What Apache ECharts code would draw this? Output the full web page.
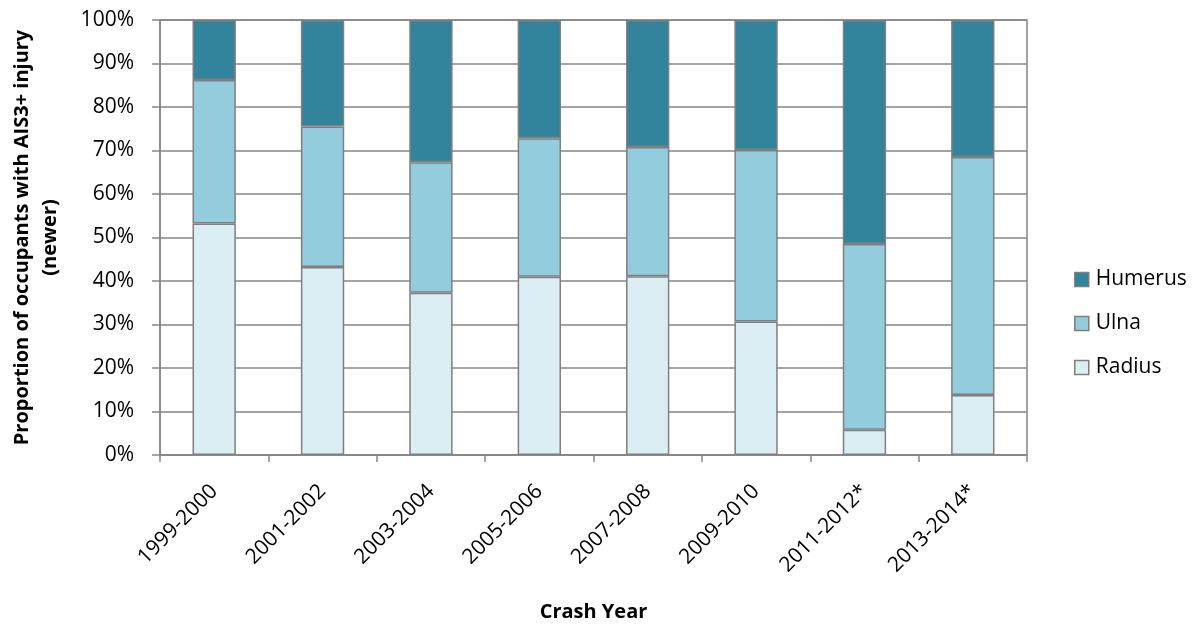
<!DOCTYPE html>
<html><head><meta charset="utf-8">
<script src="https://cdn.jsdelivr.net/npm/echarts@6/dist/echarts.min.js"></script>
<style>html,body{margin:0;padding:0;background:#fff}#c{width:1196px;height:627px}</style>
</head><body><div id="c"></div>
<script>
const categories = ['1999-2000','2001-2002','2003-2004','2005-2006','2007-2008','2009-2010','2011-2012*','2013-2014*'];
const radius = [53.2, 43.2, 37.3, 41.0, 41.1, 30.7, 5.8, 13.8];
const ulna = [33.0, 32.3, 30.0, 31.8, 29.7, 39.4, 42.7, 54.7];
const humerus = [13.8, 24.5, 32.7, 27.2, 29.2, 29.9, 51.5, 31.5];
const yTicks = [0,10,20,30,40,50,60,70,80,90,100];

const font = 'Open Sans';
const chart = echarts.init(document.getElementById('c'));
const mk = (name, data, color) => ({
  name, type:'bar', stack:'s', data, barWidth:'40%',
  itemStyle:{color, borderColor:'#7f7f7f', borderWidth:1.5},
  animation:false
});
chart.setOption({
  animation:false,
  textStyle:{fontFamily:font},
  grid:{left:160, right:169, top:20, bottom:171, show:true, borderColor:'#868686', borderWidth:1.5, containLabel:false},
  legend:{
    orient:'vertical', left:1069, top:264, itemGap:23, itemWidth:14, itemHeight:14,
    data:['Humerus','Ulna','Radius'],
    textStyle:{fontFamily:font, fontSize:21, color:'#000', padding:[0,0,0,2]},
    icon:'rect', itemStyle:{borderColor:'#7f7f7f', borderWidth:1.5}
  },
  xAxis:{
    type:'category', data:categories,
    name:'Crash Year', nameLocation:'middle', nameGap:147,
    nameTextStyle:{fontFamily:font, fontSize:20, fontWeight:'bold', color:'#000'},
    axisLine:{lineStyle:{color:'#868686', width:1.5}},
    axisTick:{show:true, length:7, lineStyle:{color:'#868686', width:1.5}},
    axisLabel:{rotate:45, fontFamily:font, fontSize:21, color:'#000', margin:33}
  },
  yAxis:{
    type:'value', min:0, max:100, interval:10,
    name:'Proportion of occupants with AIS3+ injury\n(newer)',
    nameLocation:'middle', nameRotate:90, nameGap:96,
    nameTextStyle:{fontFamily:font, fontSize:20, fontWeight:'bold', color:'#000', lineHeight:28},
    axisLine:{show:true, lineStyle:{color:'#868686', width:1.5}},
    axisTick:{show:true, length:8, lineStyle:{color:'#868686', width:1.5}},
    splitLine:{lineStyle:{color:'#868686', width:1.5}},
    axisLabel:{formatter: v => yTicks.includes(v) ? v + '%' : '', fontFamily:font, fontSize:21, color:'#000', margin:26}
  },
  series:[
    mk('Radius', radius, '#DAEEF3'),
    mk('Ulna', ulna, '#93CDDD'),
    mk('Humerus', humerus, '#31849B')
  ]
});
</script></body></html>
